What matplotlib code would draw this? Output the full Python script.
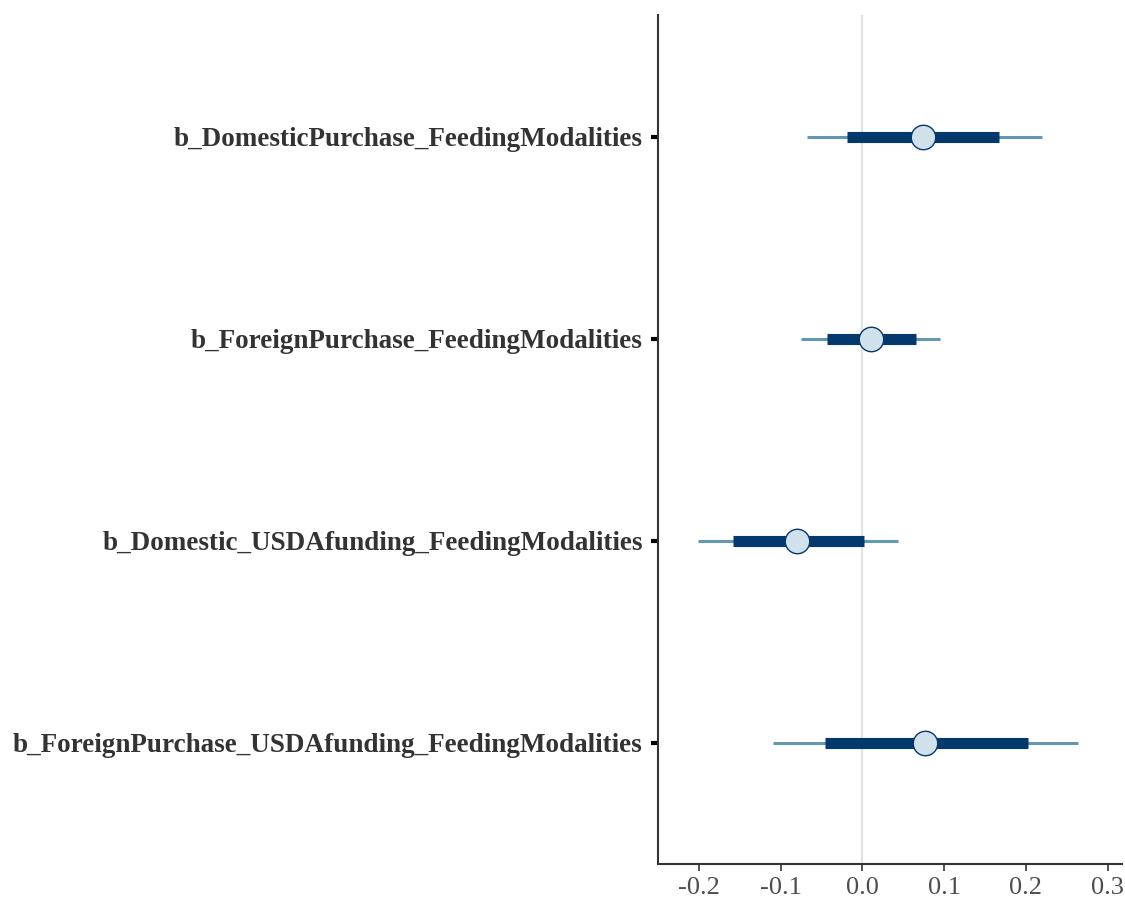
import matplotlib
matplotlib.use("Agg")
import matplotlib.pyplot as plt

# parameter names, top to bottom
params = ["b_DomesticPurchase_FeedingModalities",
          "b_ForeignPurchase_FeedingModalities",
          "b_Domestic_USDAfunding_FeedingModalities",
          "b_ForeignPurchase_USDAfunding_FeedingModalities"]
# posterior medians and interval limits
median = [0.074, 0.011, -0.080, 0.077]
inner_lo = [-0.019, -0.043, -0.158, -0.046]
inner_hi = [0.167, 0.066, 0.002, 0.202]
outer_lo = [-0.068, -0.075, -0.201, -0.109]
outer_hi = [0.219, 0.095, 0.043, 0.264]
xticks = [-0.2, -0.1, 0.0, 0.1, 0.2, 0.3]

plt.rcParams['font.family'] = ['Liberation Serif', 'DejaVu Serif']

fig = plt.figure(figsize=(11.25, 9.01), dpi=100)
ax = fig.add_axes([0.585, 0.041, 0.412, 0.942])

n = len(params)
ypos = [n - i for i in range(n)]

ax.axvline(0, color='#e3e3e3', lw=1.6, zorder=0)
ax.hlines(ypos, outer_lo, outer_hi, color='#6497b1', lw=2.2, zorder=1)
ax.hlines(ypos, inner_lo, inner_hi, color='#03396c', lw=8, zorder=2)
ax.scatter(median, ypos, s=310, facecolor='#d1e1ec', edgecolor='#03396c',
           linewidth=1.0, zorder=3)

ax.set_xlim(-0.25, 0.317)
ax.set_ylim(0.4, 4.6)
ax.set_yticks(ypos)
ax.set_yticklabels(params, fontsize=19.5, fontweight='bold', color='#333333')
ax.set_xticks(xticks)
ax.set_xticklabels([f"{t:.1f}" for t in xticks], fontsize=19, color='#4d4d4d')

ax.tick_params(axis='y', length=5, width=3, color='black', pad=6)
ax.tick_params(axis='x', length=5, width=1.2, color='#333333', pad=4)
for s in ['top', 'right']:
    ax.spines[s].set_visible(False)
for s in ['left', 'bottom']:
    ax.spines[s].set_linewidth(1.5)
    ax.spines[s].set_color('#333333')

fig.savefig('out.png', dpi=100)
